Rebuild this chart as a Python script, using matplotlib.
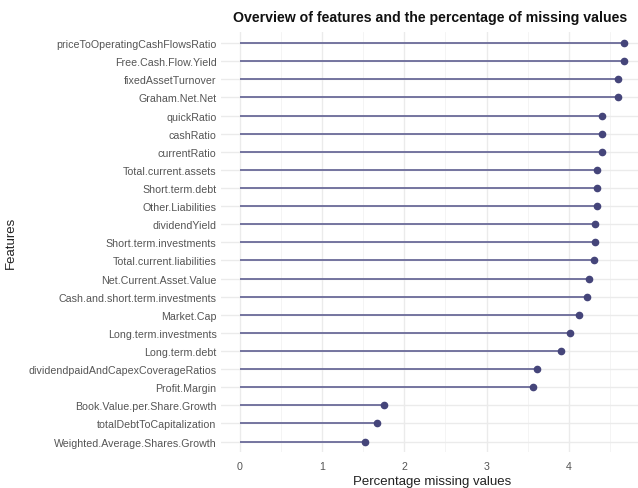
import matplotlib.pyplot as plt
import numpy as np

plt.rcParams["font.family"] = ["Liberation Sans", "DejaVu Sans"]

# Features, top to bottom as shown in the chart
features = [
    "priceToOperatingCashFlowsRatio",
    "Free.Cash.Flow.Yield",
    "fixedAssetTurnover",
    "Graham.Net.Net",
    "quickRatio",
    "cashRatio",
    "currentRatio",
    "Total.current.assets",
    "Short.term.debt",
    "Other.Liabilities",
    "dividendYield",
    "Short.term.investments",
    "Total.current.liabilities",
    "Net.Current.Asset.Value",
    "Cash.and.short.term.investments",
    "Market.Cap",
    "Long.term.investments",
    "Long.term.debt",
    "dividendpaidAndCapexCoverageRatios",
    "Profit.Margin",
    "Book.Value.per.Share.Growth",
    "totalDebtToCapitalization",
    "Weighted.Average.Shares.Growth",
]
missing_pct = [
    4.67, 4.67, 4.60, 4.60, 4.41, 4.41, 4.41, 4.35, 4.35, 4.35,
    4.32, 4.32, 4.31, 4.25, 4.22, 4.13, 4.01, 3.91, 3.62, 3.56,
    1.75, 1.67, 1.52,
]
x_ticks = [0, 1, 2, 3, 4]

y = np.arange(len(features))[::-1]
vals = np.array(missing_pct)

fig = plt.figure(figsize=(6.38, 4.89), dpi=100)
# panel runs slightly past the right edge, as in the original
ax = fig.add_axes([220.7 / 638, 1 - 453.4 / 489, (643 - 220.7) / 638, (453.4 - 33.3) / 489])

ax.hlines(y, 0, vals, color="#6a6a98", linewidth=1.3, zorder=2)
ax.plot(vals, y, "o", color="#45457a", markersize=4.5, zorder=3)

xmax = vals.max()
ax.set_xlim(-0.05 * xmax, xmax * 1.05)
ax.set_ylim(-0.6, len(features) - 0.4)

ax.set_xticks(x_ticks)
ax.set_xticks(np.arange(0.5, 5, 1), minor=True)
ax.set_yticks(y)
ax.set_yticklabels(features)

ax.grid(True, which="major", color="#ebebeb", linewidth=1.0, zorder=0)
ax.grid(True, which="minor", axis="x", color="#f3f3f3", linewidth=0.6, zorder=0)
ax.set_axisbelow(True)
for s in ax.spines.values():
    s.set_visible(False)
ax.tick_params(which="both", length=0, labelsize=7.7, labelcolor="#555555", pad=3)
ax.tick_params(axis="x", pad=6)

ax.set_xlabel("Percentage missing values", fontsize=9.5, color="#222222", labelpad=3)
ax.set_ylabel("Features", fontsize=9.5, color="#222222", labelpad=8)
fig.text(430 / 638, 1 - 18 / 489, "Overview of features and the percentage of missing values",
         ha="center", va="center", fontsize=10.2, fontweight="bold", color="#111111")

fig.savefig("out.png", dpi=100)
